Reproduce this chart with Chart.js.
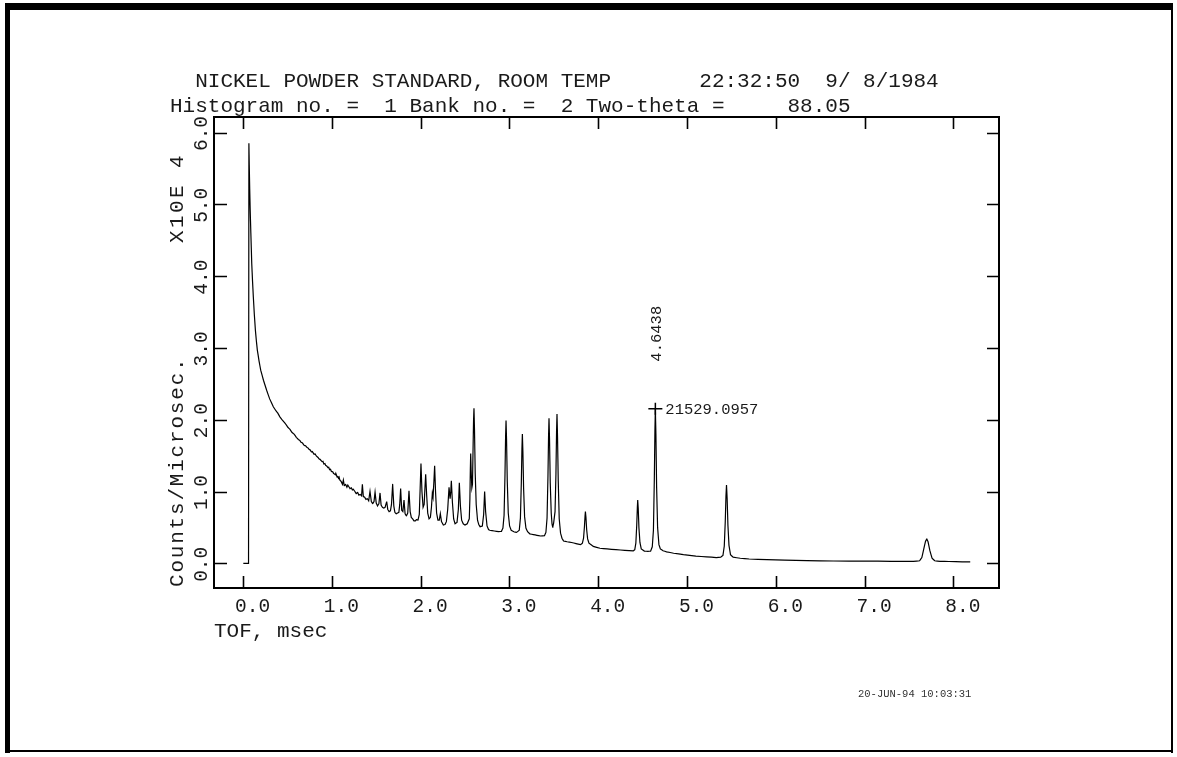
<!DOCTYPE html>
<html lang="en">
<head>
<meta charset="UTF-8">
<title>Nickel powder standard - TOF histogram</title>
<script src="https://cdn.jsdelivr.net/npm/chart.js"></script>
<style>
  html, body { margin: 0; padding: 0; background: #fff; }
  #wrap { width: 1177px; height: 757px; }
</style>
</head>
<body>
<div id="wrap"><canvas id="tofChart" width="1177" height="757"></canvas></div>
<script>
// header / labels
const titleLine1 = "  NICKEL POWDER STANDARD, ROOM TEMP       22:32:50  9/ 8/1984";
const titleLine2 = "Histogram no. =  1 Bank no. =  2 Two-theta =     88.05";
const xTitle = "TOF, msec";
const yTitle = "Counts/Microsec.";
const yScaleNote = "X10E 4";
const plotStamp = "20-JUN-94 10:03:31";

const xTicks = [0, 1, 2, 3, 4, 5, 6, 7, 8];
const xTickLabels = ["0.0", "1.0", "2.0", "3.0", "4.0", "5.0", "6.0", "7.0", "8.0"];
const yTicks = [0, 1, 2, 3, 4, 5, 6];
const yTickLabels = ["0.0", "1.0", "2.0", "3.0", "4.0", "5.0", "6.0"];

// marked peak (cursor)
const markTof = 4.6438;
const markCounts = 21529.0957;

// [TOF msec, counts/microsec x 10^4]
const spectrum = [
  [0.003, 0.00], [0.062, 0.00], [0.066, 5.85], [0.070, 5.55], [0.075, 5.22], [0.080, 4.95],
  [0.088, 4.60], [0.098, 4.18], [0.107, 3.93], [0.116, 3.71], [0.127, 3.47], [0.139, 3.25],
  [0.150, 3.10], [0.161, 2.97], [0.180, 2.82], [0.199, 2.69], [0.230, 2.55], [0.266, 2.41],
  [0.300, 2.29], [0.341, 2.18], [0.370, 2.125], [0.390, 2.095], [0.415, 2.04], [0.436, 2.005],
  [0.460, 1.97], [0.480, 1.94], [0.505, 1.895], [0.529, 1.865], [0.550, 1.825], [0.575, 1.80],
  [0.600, 1.755], [0.623, 1.725], [0.640, 1.712], [0.650, 1.69], [0.670, 1.675], [0.690, 1.64],
  [0.705, 1.638], [0.715, 1.62], [0.735, 1.602], [0.745, 1.585], [0.755, 1.58], [0.770, 1.552],
  [0.780, 1.556], [0.800, 1.518], [0.812, 1.522], [0.825, 1.495], [0.845, 1.474], [0.855, 1.455],
  [0.867, 1.448], [0.880, 1.43], [0.890, 1.416], [0.900, 1.42], [0.910, 1.383], [0.922, 1.39],
  [0.930, 1.365], [0.945, 1.352], [0.955, 1.335], [0.965, 1.338], [0.975, 1.305], [0.985, 1.31],
  [0.995, 1.28], [1.010, 1.276], [1.020, 1.25], [1.030, 1.245], [1.040, 1.232], [1.045, 1.252],
  [1.060, 1.20], [1.068, 1.21], [1.075, 1.185], [1.082, 1.20], [1.090, 1.16],
  // noisy region with weak reflections
  [1.105, 1.14], [1.120, 1.10], [1.130, 1.16], [1.140, 1.08], [1.155, 1.10], [1.170, 1.06],
  [1.180, 1.09], [1.190, 1.07], [1.205, 1.04], [1.220, 1.05], [1.232, 1.02], [1.240, 1.035],
  [1.260, 1.00], [1.275, 0.97], [1.290, 0.99], [1.305, 0.95], [1.320, 0.96], [1.335, 0.94],
  [1.344, 1.10], [1.355, 0.93], [1.370, 0.92], [1.385, 0.89], [1.400, 0.90], [1.415, 0.87],
  [1.430, 1.00], [1.445, 0.86], [1.460, 0.83], [1.475, 0.86], [1.487, 0.99], [1.500, 0.84],
  [1.515, 0.80], [1.530, 0.83], [1.543, 0.98], [1.555, 0.81], [1.570, 0.78], [1.585, 0.77],
  [1.600, 0.78], [1.618, 0.86], [1.630, 0.75], [1.645, 0.72], [1.660, 0.73], [1.672, 0.82],
  [1.685, 1.10], [1.698, 0.80], [1.710, 0.71], [1.725, 0.69], [1.740, 0.70], [1.755, 0.71],
  [1.765, 0.82], [1.775, 1.04], [1.787, 0.74], [1.800, 0.72], [1.813, 0.88], [1.825, 0.69],
  [1.840, 0.66], [1.855, 0.70], [1.869, 1.01], [1.882, 0.72], [1.895, 0.64], [1.910, 0.62],
  [1.925, 0.59], [1.940, 0.59], [1.955, 0.61], [1.970, 0.60],
  // 2.0 - 2.8 msec
  [1.985, 0.68], [1.995, 1.05], [2.004, 1.39], [2.015, 1.00], [2.028, 0.78], [2.040, 0.82],
  [2.050, 1.08], [2.057, 1.24], [2.068, 0.95], [2.080, 0.70], [2.095, 0.62], [2.110, 0.64],
  [2.122, 0.78], [2.132, 0.975], [2.140, 0.92], [2.150, 1.15], [2.158, 1.36], [2.168, 1.00],
  [2.180, 0.70], [2.195, 0.60], [2.210, 0.60], [2.222, 0.69], [2.235, 0.58], [2.256, 0.534],
  [2.275, 0.54], [2.290, 0.58], [2.305, 0.75], [2.320, 1.06], [2.332, 0.90], [2.340, 1.00],
  [2.346, 1.15], [2.358, 0.85], [2.372, 0.62], [2.388, 0.55], [2.410, 0.57], [2.425, 0.75],
  [2.436, 1.12], [2.448, 0.80], [2.462, 0.60], [2.480, 0.55], [2.500, 0.534], [2.525, 0.55],
  [2.548, 0.62], [2.555, 0.90], [2.560, 1.30], [2.564, 1.53], [2.569, 1.30], [2.577, 1.05],
  [2.584, 1.10], [2.590, 1.55], [2.596, 1.98], [2.601, 2.16], [2.607, 1.85], [2.615, 1.25],
  [2.626, 0.82], [2.641, 0.60], [2.655, 0.54], [2.670, 0.51], [2.695, 0.52], [2.710, 0.68],
  [2.721, 1.00], [2.732, 0.72], [2.748, 0.52], [2.765, 0.47], [2.780, 0.46],
  // 2.8 - 3.95 msec
  [2.830, 0.45], [2.880, 0.44], [2.910, 0.445], [2.927, 0.49], [2.940, 0.67], [2.950, 1.22],
  [2.957, 1.76], [2.962, 1.99], [2.968, 1.71], [2.976, 1.14], [2.987, 0.70], [3.002, 0.52],
  [3.020, 0.46], [3.050, 0.44], [3.080, 0.43], [3.111, 0.46], [3.124, 0.63], [3.134, 1.11],
  [3.141, 1.59], [3.146, 1.80], [3.152, 1.55], [3.160, 1.04], [3.171, 0.65], [3.186, 0.49],
  [3.205, 0.44], [3.230, 0.41], [3.270, 0.40], [3.310, 0.39], [3.350, 0.38], [3.395, 0.385],
  [3.411, 0.43], [3.424, 0.63], [3.434, 1.20], [3.441, 1.77], [3.446, 2.02], [3.452, 1.72],
  [3.460, 1.12], [3.471, 0.70], [3.480, 0.55], [3.488, 0.50], [3.498, 0.56], [3.514, 0.72],
  [3.524, 1.24], [3.531, 1.83], [3.536, 2.08], [3.542, 1.76], [3.550, 1.15], [3.561, 0.62],
  [3.576, 0.42], [3.592, 0.35], [3.610, 0.31], [3.650, 0.30], [3.700, 0.29], [3.750, 0.275],
  [3.800, 0.26], [3.822, 0.28], [3.835, 0.35], [3.845, 0.51], [3.852, 0.66], [3.856, 0.72],
  [3.862, 0.64], [3.870, 0.47], [3.881, 0.34], [3.896, 0.28], [3.945, 0.235],
  // 4.0 - 8.2 msec
  [4.020, 0.21], [4.100, 0.20], [4.200, 0.19], [4.300, 0.18], [4.395, 0.172], [4.412, 0.19],
  [4.424, 0.28], [4.434, 0.53], [4.441, 0.78], [4.445, 0.88], [4.451, 0.76], [4.459, 0.49],
  [4.470, 0.29], [4.485, 0.20], [4.520, 0.17], [4.560, 0.165], [4.590, 0.17], [4.609, 0.23],
  [4.622, 0.46], [4.632, 1.16], [4.639, 1.86], [4.6438, 2.1529], [4.650, 1.80], [4.658, 1.06],
  [4.669, 0.50], [4.684, 0.26], [4.700, 0.20], [4.730, 0.175], [4.770, 0.16], [4.850, 0.14],
  [4.960, 0.12], [5.100, 0.10], [5.220, 0.09], [5.330, 0.08], [5.380, 0.085], [5.405, 0.11],
  [5.420, 0.24], [5.431, 0.58], [5.439, 0.94], [5.445, 1.09], [5.452, 0.91], [5.461, 0.53],
  [5.473, 0.25], [5.490, 0.12], [5.520, 0.085], [5.600, 0.07], [5.700, 0.06], [5.900, 0.052],
  [6.100, 0.045], [6.350, 0.038], [6.650, 0.032], [7.000, 0.030], [7.300, 0.028], [7.550, 0.028],
  [7.620, 0.035], [7.645, 0.08], [7.665, 0.19], [7.685, 0.30], [7.700, 0.339], [7.715, 0.30],
  [7.735, 0.18], [7.760, 0.07], [7.790, 0.035], [7.850, 0.028], [7.950, 0.025], [8.100, 0.02],
  [8.190, 0.02]
];

const MONO = '"Liberation Mono", "DejaVu Sans Mono", monospace';

function upText(c, txt, x, y, align, spacing) {
  // text reading bottom to top
  c.save();
  c.translate(x, y);
  c.rotate(-Math.PI / 2);
  c.textAlign = align;
  if (spacing) c.letterSpacing = spacing;
  c.fillText(txt, 0, 0);
  c.restore();
}

const plotDecor = {
  id: 'plotDecor',
  beforeDraw(chart) {
    const c = chart.ctx;
    c.save();
    c.fillStyle = '#fff';
    c.fillRect(0, 0, chart.width, chart.height);
    // page border
    c.fillStyle = '#000';
    c.fillRect(5, 3, 1168, 7);
    c.fillRect(5, 3, 5, 750);
    c.fillRect(1171, 3, 2, 750);
    c.fillRect(5, 750, 1168, 2);
    c.restore();
  },
  afterDraw(chart) {
    const c = chart.ctx;
    const a = chart.chartArea;
    const xs = chart.scales.x, ys = chart.scales.y;
    c.save();
    c.strokeStyle = '#000';
    c.fillStyle = '#1a1a1a';

    // frame
    c.lineWidth = 2;
    c.strokeRect(a.left, a.top, a.right - a.left, a.bottom - a.top);

    // inward ticks on all four sides
    c.lineWidth = 1.6;
    c.beginPath();
    xTicks.forEach(v => {
      const px = Math.round(xs.getPixelForValue(v)) + 0.5;
      c.moveTo(px, a.bottom); c.lineTo(px, a.bottom - 12);
      c.moveTo(px, a.top); c.lineTo(px, a.top + 12);
    });
    yTicks.forEach(v => {
      const py = Math.round(ys.getPixelForValue(v)) + 0.5;
      c.moveTo(a.left, py); c.lineTo(a.left + 13, py);
      c.moveTo(a.right, py); c.lineTo(a.right - 12, py);
    });
    c.stroke();

    // tick labels
    c.font = '19.5px ' + MONO;
    c.textBaseline = 'alphabetic';
    c.textAlign = 'center';
    xTicks.forEach((v, i) => {
      c.fillText(xTickLabels[i], xs.getPixelForValue(v) + 9.5, 612);
    });
    yTicks.forEach((v, i) => {
      upText(c, yTickLabels[i], 207, ys.getPixelForValue(v) + 1, 'center');
    });

    // axis titles
    c.font = '21px ' + MONO;
    c.textAlign = 'left';
    c.fillText(xTitle, 214, 637);
    upText(c, yTitle, 183, 587, 'left', '1.8px');
    upText(c, yScaleNote, 183, 243, 'left', '2.4px');

    // header
    c.fillText(titleLine1, 170, 87);
    c.fillText(titleLine2, 170, 112);

    // cursor on the marked peak
    const mx = xs.getPixelForValue(markTof);
    const my = ys.getPixelForValue(markCounts / 10000);
    c.lineWidth = 1.5;
    c.beginPath();
    c.moveTo(mx - 7, my); c.lineTo(mx + 7, my);
    c.moveTo(mx, my - 6); c.lineTo(mx, my + 6);
    c.stroke();
    c.font = '15.5px ' + MONO;
    c.textAlign = 'left';
    c.fillText(markCounts.toFixed(4), mx + 10, my + 5);
    upText(c, markTof.toFixed(4), mx + 6, my - 75, 'center');

    // plot stamp
    c.font = '10.5px ' + MONO;
    c.fillStyle = '#333';
    c.fillText(plotStamp, 858, 697);
    c.restore();
  }
};

const tofChart = new Chart(document.getElementById('tofChart'), {
  type: 'line',
  data: {
    datasets: [{
      data: spectrum.map(p => ({ x: p[0], y: p[1] })),
      borderColor: '#000',
      borderWidth: 1.2,
      pointRadius: 0,
      // tiny tension keeps chart.js off its pixel-binning fast path, so narrow peaks stay clean
      tension: 0.0001,
      fill: false
    }]
  },
  options: {
    responsive: false,
    animation: false,
    devicePixelRatio: 1,
    layout: { padding: { left: 214, top: 117, right: 178, bottom: 169 } },
    plugins: { legend: { display: false }, tooltip: { enabled: false } },
    scales: {
      x: { type: 'linear', min: -0.327, max: 8.514, display: false },
      y: { type: 'linear', min: -0.344, max: 6.216, display: false }
    }
  },
  plugins: [plotDecor]
});
</script>
</body>
</html>
